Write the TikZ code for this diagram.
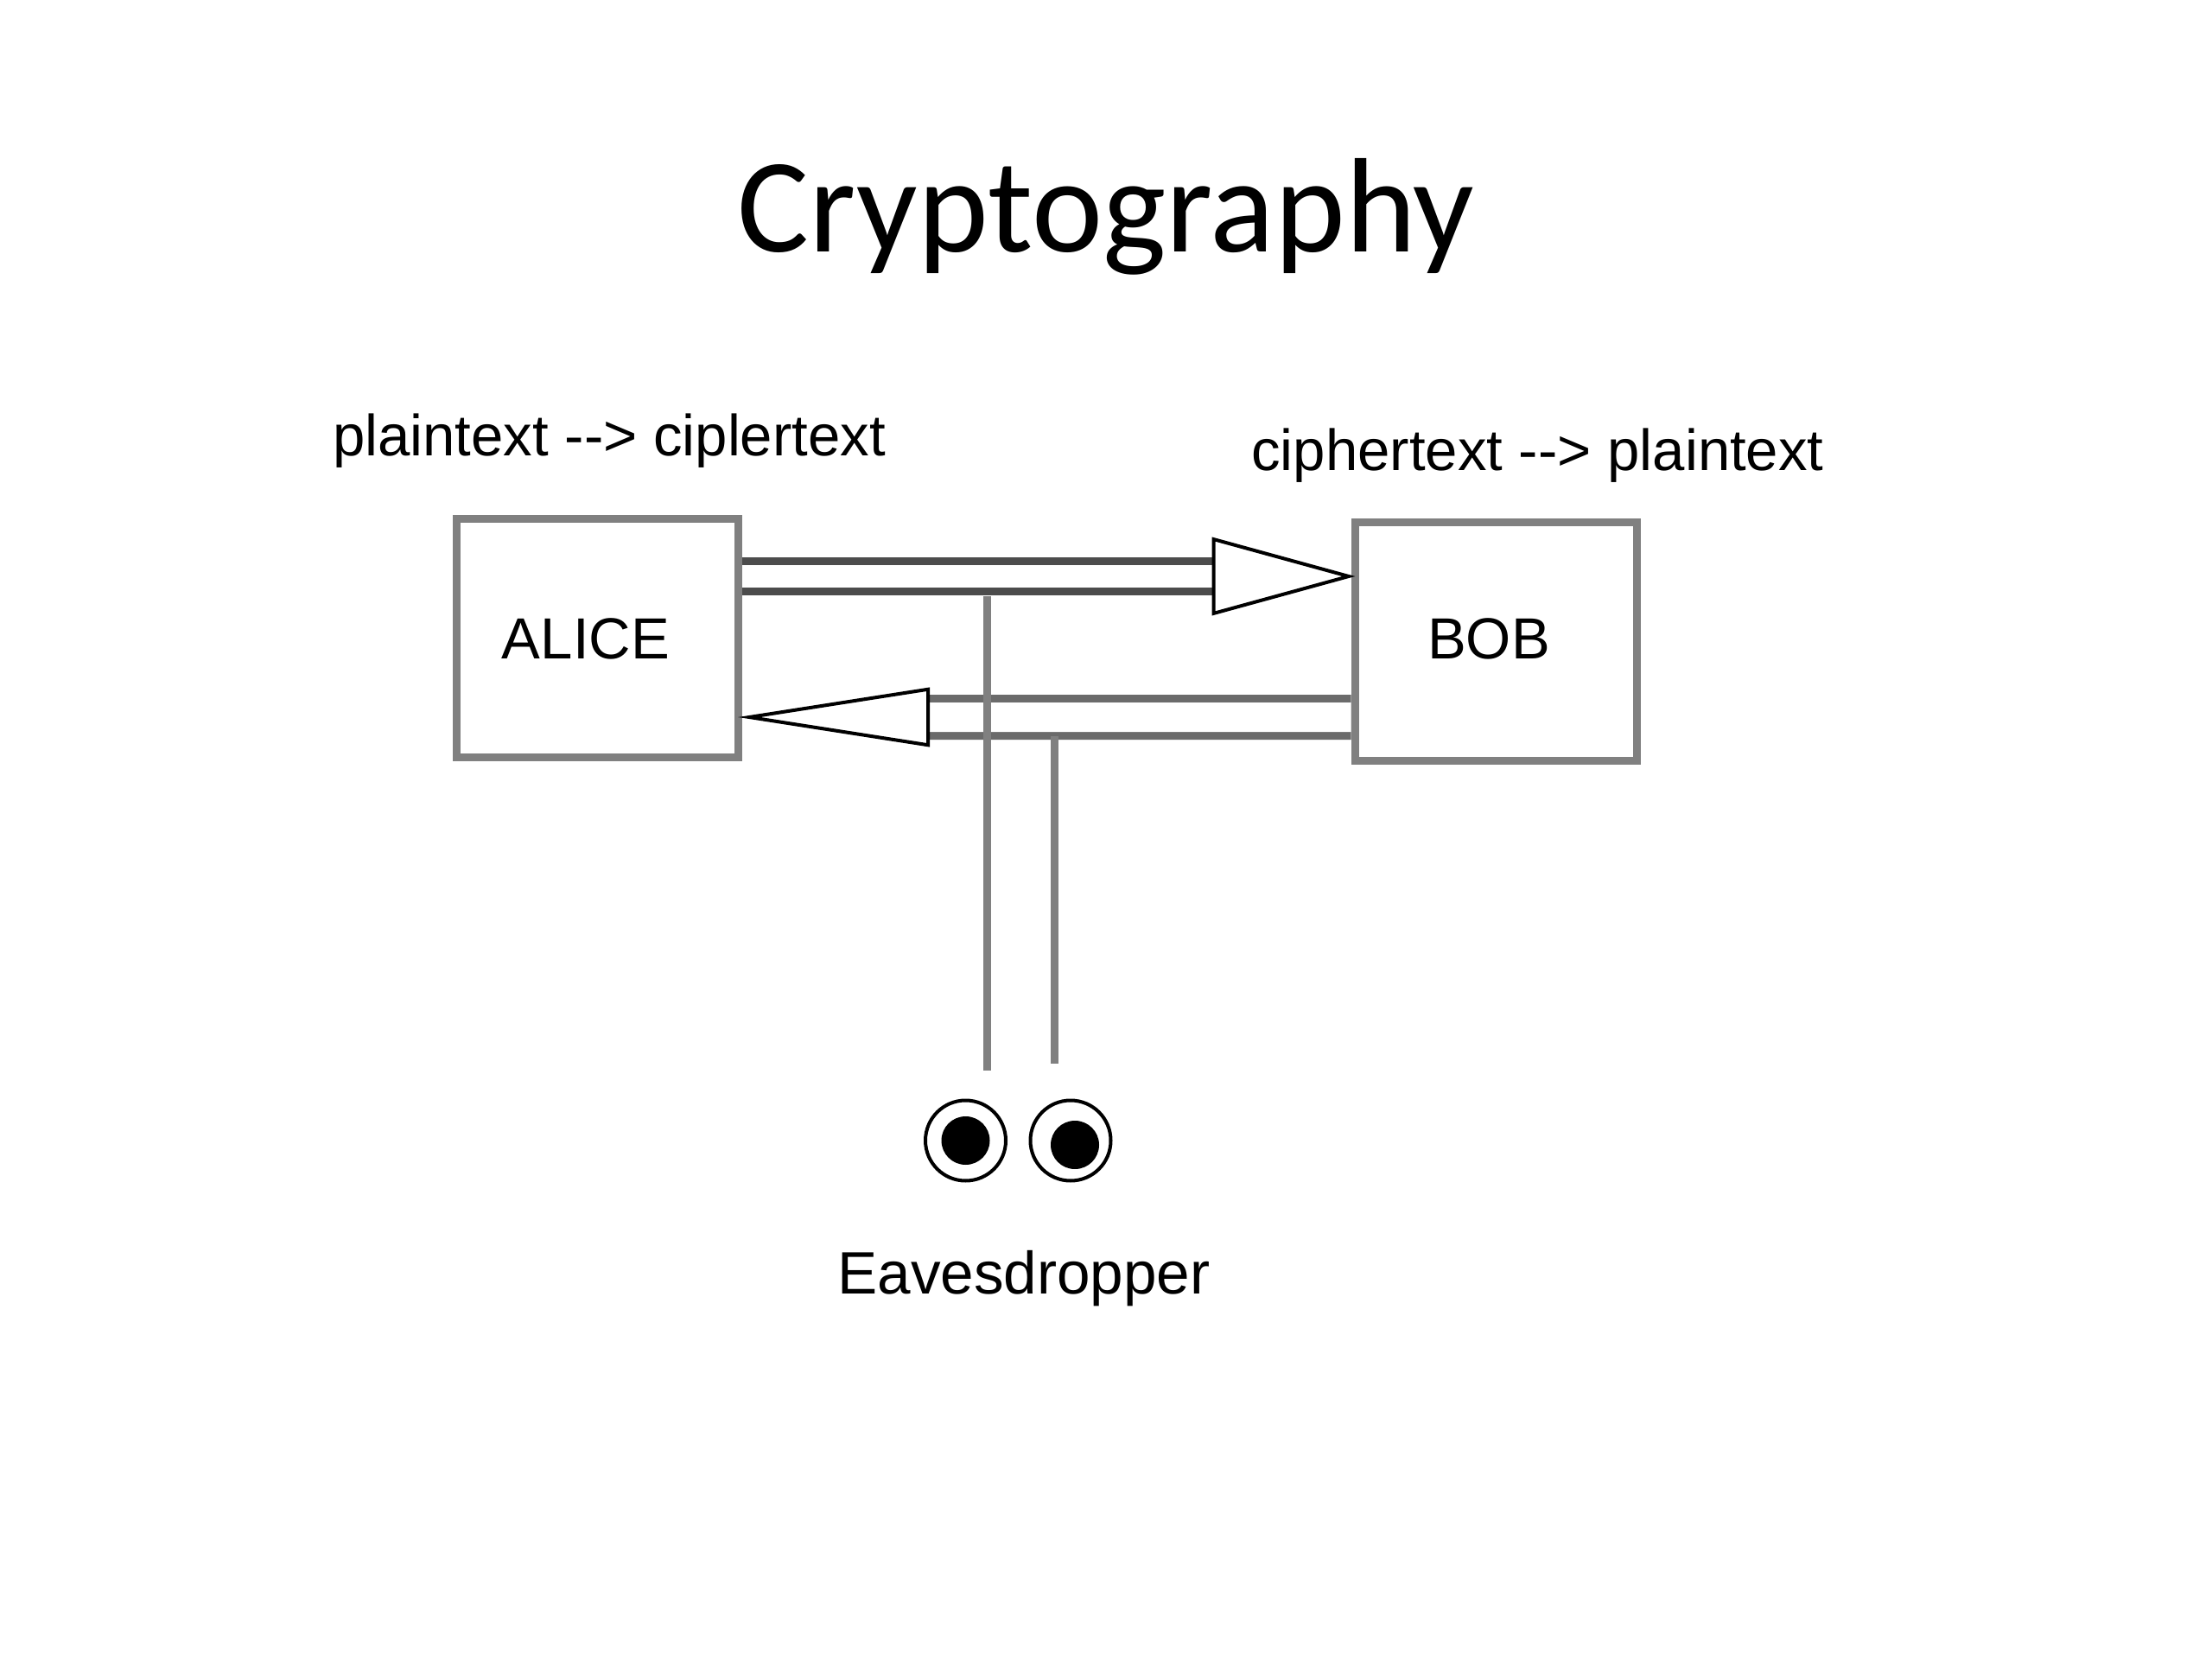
\documentclass[tikz,border=0pt]{standalone}
\usepackage{fontspec}
\setmainfont{Liberation Sans}
\newfontfamily\titlefont{Carlito}
\usetikzlibrary{positioning, arrows.meta}
\definecolor{lineagris}{gray}{0.5}
\definecolor{flechagris}{gray}{0.3}
\definecolor{vueltagris}{gray}{0.42}

\begin{document}
\begin{tikzpicture}[
			node distance = 7.045cm,
			party/.style = {
				rectangle,
				draw=lineagris,
				line width=0.09cm,
				minimum width=3.26cm,
				minimum height=2.76cm
			},
			caption/.style = {
				font=\fontsize{19.1}{23}\selectfont,
				inner sep=0pt,
				anchor=base
			},
			channel/.style n args = {4}{
				double,
				draw=#4,
				line width=0.09cm,
				double distance=#3,
				shorten >=-0.05cm,
				-{Triangle[open, length=#1, width=#2, line width=0.04cm, color=black]}
			},
			tap/.style = {
				draw=lineagris,
				line width=0.09cm
			},
			eye/.style = {
				circle,
				draw=black,
				line width=0.04cm,
				minimum size=0.93cm,
				inner sep=0pt
			},
			pupil/.style = {
				circle,
				fill=black,
				minimum size=0.56cm,
				inner sep=0pt
			}
			]
			
			\useasboundingbox (0,0) rectangle (25.6,-19.2);
			
			\node[font=\titlefont\fontsize{44.3}{53}\selectfont, inner sep=0pt, anchor=base] (title) at (12.8,-2.92) {Cryptography};
			
			\node[party] (alice) at (6.915,-7.38) {};
			\node[party, right=of alice, yshift=-0.045cm] (bob) {};
			\node[caption] (alicetext) at (6.78,-7.62) {ALICE};
			\node[caption] (bobtext) at (17.23,-7.62) {BOB};
			
			\node[caption] (encrypt) at (7.05,-5.28) {plaintext -{}-> ciplertext};
			\node[caption] (decrypt) at (17.795,-5.45) {ciphertext -{}-> plaintext};
			
			\node[eye] (lefteye) at (11.175,-13.2) {};
			\node[eye, right=0.245cm of lefteye] (righteye) {};
			\node[pupil] (leftpupil) at (lefteye.center) {};
			\node[pupil, xshift=0.05cm, yshift=-0.05cm] (rightpupil) at (righteye.center) {};
			\node[caption, font=\fontsize{19.7}{23}\selectfont] (eavesdropper) at (11.85,-14.97) {Eavesdropper};
			
			\coordinate (tapone) at (11.42,-6.9);
			\coordinate (taptwo) at (12.2,-8.52);
			
			\draw[channel={1.66cm}{0.9cm}{0.26cm}{flechagris}] ([yshift=0.71cm]alice.east) -- ([yshift=0.755cm]bob.west);
			\draw[channel={2.22cm}{0.68cm}{0.34cm}{vueltagris}] ([yshift=-0.875cm]bob.west) -- ([yshift=-0.92cm]alice.east);
			
			\draw[tap] (tapone) -- ([yshift=0.33cm]lefteye.north -| tapone);
			\draw[tap] (taptwo) -- ([yshift=0.41cm]lefteye.north -| taptwo);
			
		\end{tikzpicture}
\end{document}
